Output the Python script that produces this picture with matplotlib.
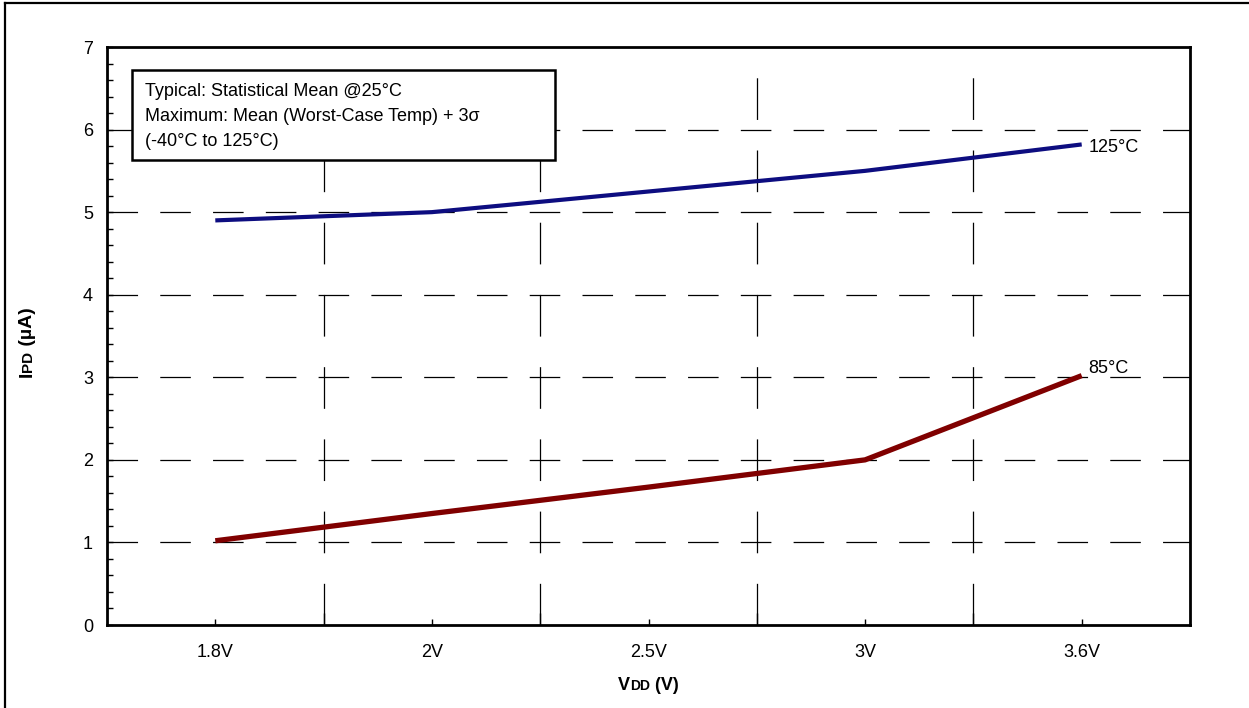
import matplotlib
matplotlib.use('Agg')
import matplotlib.pyplot as plt
from matplotlib.lines import Line2D
from matplotlib.patches import Rectangle
from matplotlib.ticker import MultipleLocator, FixedLocator

plt.rcParams['font.family'] = ['Liberation Sans', 'DejaVu Sans']
plt.rcParams['lines.scale_dashes'] = False

# Data
vdd_labels = ['1.8V', '2V', '2.5V', '3V', '3.6V']
ipd_125c = [4.90, 5.00, 5.25, 5.50, 5.82]
ipd_85c = [1.02, 1.35, 1.67, 2.00, 3.02]
note_lines = ['Typical: Statistical Mean @25°C',
              'Maximum: Mean (Worst-Case Temp) + 3σ',
              '(-40°C to 125°C)']

W, H = 1249, 708
fig = plt.figure(figsize=(W / 100, H / 100), dpi=100)
ax = fig.add_axes([107 / W, 1 - 625 / H, (1190 - 107) / W, (625 - 47) / H])

x = list(range(len(vdd_labels)))
ax.plot(x, ipd_125c, color='#0d0d80', lw=3.0, solid_capstyle='butt', zorder=3)
ax.plot(x, ipd_85c, color='#800000', lw=3.8, solid_capstyle='butt', zorder=3)

ax.annotate('125°C', (x[-1], ipd_125c[-1]), xytext=(5, -2), textcoords='offset points',
            fontsize=13, va='center', ha='left')
ax.annotate('85°C', (x[-1], ipd_85c[-1]), xytext=(5, 5), textcoords='offset points',
            fontsize=13, va='center', ha='left')

ax.set_xlim(-0.5, len(vdd_labels) - 0.5)
ax.set_ylim(0, 7)
ax.set_xticks(x)
ax.set_xticklabels(vdd_labels)
ax.xaxis.set_minor_locator(FixedLocator([i + 0.5 for i in x[:-1]]))
ax.yaxis.set_major_locator(MultipleLocator(1))
ax.yaxis.set_minor_locator(MultipleLocator(0.2))
ax.tick_params(axis='both', which='major', direction='in', length=4, width=1,
               labelsize=13, pad=10, color='black')
ax.tick_params(axis='y', which='minor', direction='in', length=4, width=1)
ax.tick_params(axis='x', which='minor', direction='in', length=9, width=1)
ax.tick_params(axis='x', which='major', pad=14)

# dashed grid: horizontal at the major y ticks, vertical between categories
for yv in range(1, 7):
    ax.axhline(yv, color='black', lw=0.9, dashes=(22, 16), zorder=1)
for xv in [i + 0.5 for i in x[:-1]]:
    ax.axvline(xv, color='black', lw=0.9, dashes=(30, 22), zorder=1)

for s in ax.spines.values():
    s.set_linewidth(2)

# note box
ax.add_patch(Rectangle((25 / 1083, 1 - 113 / 578), 423 / 1083, 90 / 578,
                       transform=ax.transAxes, fill=True, facecolor='white',
                       edgecolor='black', lw=1.8, zorder=4))
ax.text(38 / 1083, 1 - 36 / 578, '\n'.join(note_lines), transform=ax.transAxes,
        fontsize=13, va='top', ha='left', linespacing=1.62, zorder=5)


def mixed_label(parts, cx, cy, rotation=0):
    # parts: list of (text, size); placed one after another, centred on (cx, cy) in pixels
    r = fig.canvas.get_renderer()
    objs = []
    for t, sz in parts:
        o = fig.text(0, 0, t, fontsize=sz, fontweight='bold', rotation=rotation,
                     va='baseline', ha='left', rotation_mode='anchor')
        objs.append(o)
    widths = []
    for o in objs:
        bb = o.get_window_extent(r)
        widths.append(bb.width if rotation == 0 else bb.height)
    total = sum(widths)
    pos = -total / 2
    for o, w in zip(objs, widths):
        if rotation == 0:
            o.set_position(((cx + pos) / W, (H - cy) / H))
        else:
            o.set_position((cx / W, (H - cy + pos) / H))
        pos += w


mixed_label([('V', 13), ('DD', 10), (' (V)', 13)], 648, 690)
mixed_label([('I', 14), ('PD', 11), (' (µA)', 14)], 32, 342, rotation=90)

# outer frame (top and left edges)
fig.add_artist(Line2D([5 / W, 5 / W], [0, 1 - 2.5 / H], transform=fig.transFigure,
                      color='black', lw=1.6))
fig.add_artist(Line2D([5 / W, 1], [1 - 2.5 / H, 1 - 2.5 / H], transform=fig.transFigure,
                      color='black', lw=1.6))

fig.savefig('out.png', dpi=100)
